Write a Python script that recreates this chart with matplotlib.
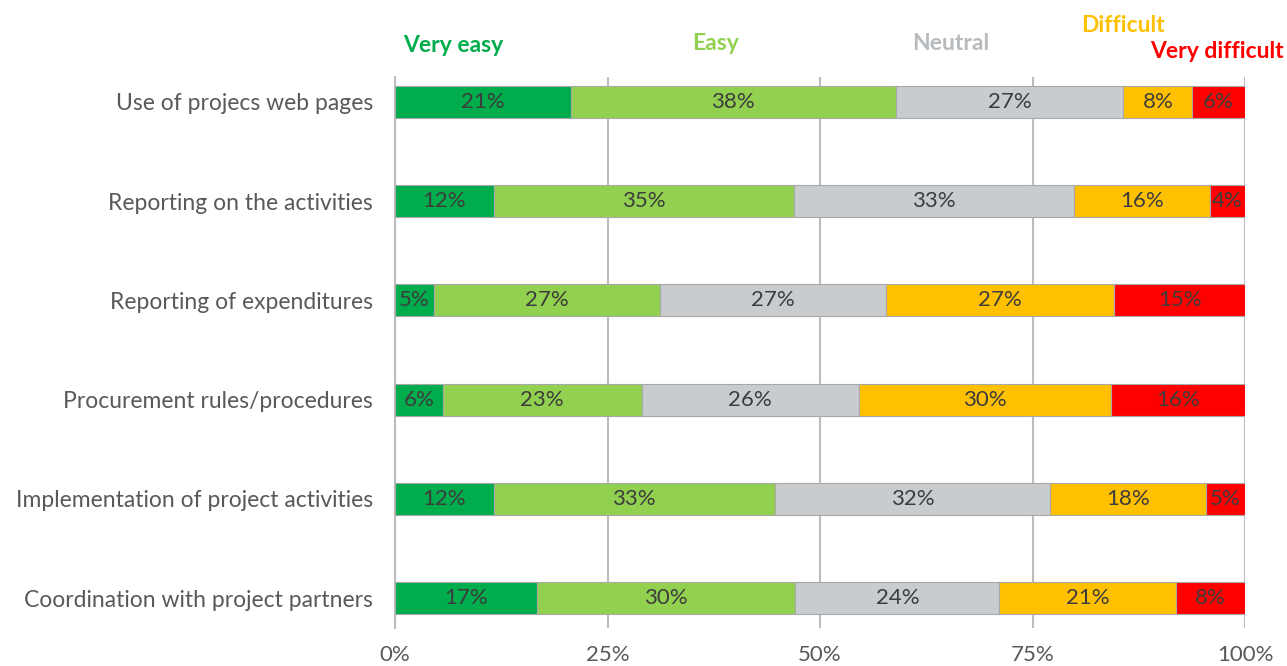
import numpy as np
import matplotlib.pyplot as plt

plt.rcParams['font.family'] = ['Lato', 'DejaVu Sans']

# survey items, top to bottom
items = ['Use of projecs web pages',
         'Reporting on the activities',
         'Reporting of expenditures',
         'Procurement rules/procedures',
         'Implementation of project activities',
         'Coordination with project partners']

# share of answers per item (%)
very_easy = [20.7, 11.6, 4.6, 5.6, 11.6, 16.7]
easy = [38.2, 35.3, 26.6, 23.4, 33.1, 30.4]
neutral = [26.8, 33.0, 26.6, 25.6, 32.4, 24.0]
difficult = [8.1, 16.0, 26.8, 29.6, 18.3, 20.8]
very_difficult = [6.2, 4.1, 15.4, 15.8, 4.6, 8.1]

series = ['Very easy', 'Easy', 'Neutral', 'Difficult', 'Very difficult']
values = [very_easy, easy, neutral, difficult, very_difficult]
colors = ['#00AD4C', '#92D050', '#C9CCCF', '#FFC000', '#FF0000']
name_colors = ['#00AD4C', '#92D050', '#B8BBBE', '#FFC000', '#FF0000']

fig = plt.figure(figsize=(12.87, 6.66), dpi=100)
ax = fig.add_axes([395 / 1287, 1 - 628 / 666, 850 / 1287, 551 / 666])

y = np.arange(len(items))
left = np.zeros(len(items))
for name, vals, col in zip(series, values, colors):
    vals = np.array(vals)
    ax.barh(y, vals, left=left, height=0.32, color=col,
            edgecolor='#A8A8A8', linewidth=0.8, zorder=3)
    for yi, l, v in zip(y, left, vals):
        ax.text(l + v / 2, yi, f'{v:.0f}%', ha='center', va='center',
                fontsize=16, color='#3C3C3C', zorder=4)
    left += vals

ax.set_xlim(0, 100)
ax.set_ylim(5.30, -0.25)
ax.set_yticks(y)
ax.set_yticklabels(items, fontsize=16.5, color='#595959')
ax.set_xticks([0, 25, 50, 75, 100])
ax.set_xticklabels(['0%', '25%', '50%', '75%', '100%'], fontsize=16, color='#595959')
ax.tick_params(length=0)
ax.tick_params(axis='x', pad=12)
ax.tick_params(axis='y', pad=16)
ax.grid(axis='x', color='#BDBDBD', linewidth=1.5, zorder=0)
for s in ['top', 'right', 'bottom']:
    ax.spines[s].set_visible(False)
ax.spines['left'].set_color('#BDBDBD')
ax.spines['left'].set_linewidth(1.5)

# series names above the bars
name_pos = [(453, 45), (716, 43), (951, 44), (1123, 25), (1217, 52)]
for name, col, (px, py) in zip(series, name_colors, name_pos):
    fig.text(px / 1287, 1 - py / 666, name, ha='center', va='center',
             fontsize=16.5, fontweight='bold', color=col)

fig.savefig('out.png', dpi=100)
